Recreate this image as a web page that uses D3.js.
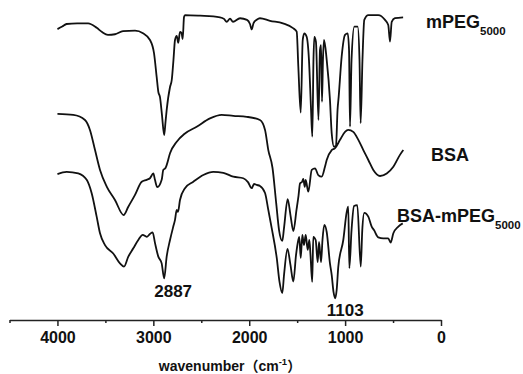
<!DOCTYPE html>
<html>
<head>
<meta charset="utf-8">
<script src="https://cdn.jsdelivr.net/npm/d3@7"></script>
<style>
  body { margin: 0; background: #fff; }
  text { font-family: "Liberation Sans", Arial, sans-serif; font-weight: bold; fill: #111; }
</style>
</head>
<body>
<div id="chart"></div>
<script>
var width = 523,
    height = 374;

// spectra: [wavenumber (cm-1), transmittance (a.u.)]
var mpegSpectrum = [
  [4000, 90.9], [3950, 91.7], [3905, 92.5], [3795, 92.7], [3680, 92.7], [3590, 91.3],
  [3535, 90.0], [3473, 89.1], [3400, 89.3], [3316, 90.3], [3191, 90.4], [3108, 89.6],
  [3035, 87.5], [2993, 83.4], [2965, 75.9], [2948, 71.3], [2931, 69.7], [2910, 64.1],
  [2887, 57.8], [2873, 61.9], [2861, 65.6], [2826, 72.8], [2808, 75.0], [2790, 81.3],
  [2774, 87.5], [2756, 88.8], [2740, 86.6], [2722, 90.0], [2706, 89.7], [2694, 87.8],
  [2680, 94.7], [2670, 95.3], [2513, 95.1], [2305, 94.6], [2263, 94.1], [2235, 93.2],
  [2200, 94.2], [2169, 93.2], [2096, 94.3], [2023, 93.8], [1992, 92.5], [1974, 90.8],
  [1955, 92.8], [1922, 93.8], [1888, 94.3], [1783, 93.5], [1648, 92.7], [1543, 91.2],
  [1505, 90.1], [1488, 79.2], [1463, 64.8], [1442, 87.5], [1426, 89.6], [1401, 88.5],
  [1377, 81.3], [1356, 66.3], [1342, 57.3], [1330, 81.3], [1321, 88.5], [1304, 86.9],
  [1278, 62.5], [1262, 84.4], [1251, 85.9], [1241, 68.2], [1231, 81.3], [1220, 87.5],
  [1192, 81.3], [1158, 68.8], [1140, 58.4], [1116, 54.2], [1095, 54.4], [1079, 65.6],
  [1067, 69.8], [1036, 82.3], [1001, 89.1], [973, 89.6], [959, 84.4], [949, 60.4],
  [933, 81.3], [904, 91.7], [869, 91.7], [850, 81.3], [838, 61.5], [819, 81.3],
  [800, 93.8], [758, 95.3], [654, 95.3], [584, 93.8], [550, 92.2], [532, 87.0],
  [514, 93.2], [480, 94.3], [395, 94.6]
];

var bsaSpectrum = [
  [4000, 64.4], [3835, 64.1], [3713, 62.5], [3661, 59.4], [3608, 53.1], [3556, 46.9],
  [3486, 41.7], [3400, 37.5], [3310, 32.8], [3261, 35.4], [3191, 39.1], [3121, 43.2],
  [3069, 43.8], [3035, 44.3], [3000, 45.8], [2983, 43.8], [2959, 41.5], [2913, 43.8],
  [2896, 46.9], [2873, 47.5], [2861, 48.4], [2826, 52.1], [2756, 55.7], [2670, 58.3],
  [2548, 60.4], [2409, 63.0], [2287, 64.1], [2166, 63.8], [2026, 63.5], [1888, 62.5],
  [1835, 59.4], [1801, 53.1], [1757, 47.5], [1719, 36.6], [1689, 28.1], [1655, 24.7],
  [1637, 28.8], [1599, 37.8], [1570, 32.8], [1540, 27.8], [1507, 34.4], [1486, 38.8],
  [1470, 42.7], [1450, 43.1], [1436, 44.1], [1421, 41.6], [1411, 43.8], [1384, 40.1],
  [1348, 46.9], [1314, 47.4], [1280, 45.3], [1244, 44.8], [1210, 47.9], [1192, 50.0],
  [1140, 53.1], [1105, 53.7], [1053, 56.3], [1001, 58.8], [967, 59.4], [915, 58.8],
  [862, 56.3], [810, 53.1], [758, 50.0], [706, 46.9], [636, 45.0], [566, 45.8],
  [497, 47.9], [428, 51.6], [393, 53.1]
];

var conjSpectrum = [
  [4000, 45.6], [3904, 46.3], [3783, 45.8], [3695, 43.8], [3643, 39.6], [3591, 32.3],
  [3556, 27.1], [3504, 23.4], [3418, 20.8], [3348, 17.7], [3306, 16.7], [3261, 19.8],
  [3209, 22.4], [3157, 25.0], [3111, 26.6], [3069, 26.0], [3035, 26.9], [3007, 27.4],
  [2983, 24.1], [2948, 19.8], [2913, 17.7], [2887, 13.0], [2861, 19.8], [2826, 25.0],
  [2792, 29.2], [2774, 31.3], [2756, 34.4], [2743, 33.8], [2722, 37.5], [2670, 41.2],
  [2583, 43.2], [2479, 45.3], [2375, 46.3], [2270, 46.0], [2166, 44.8], [2062, 44.3],
  [2013, 43.1], [1974, 41.2], [1950, 42.5], [1922, 42.2], [1888, 41.9], [1835, 39.7],
  [1801, 34.4], [1766, 28.8], [1713, 19.4], [1684, 11.9], [1655, 8.4], [1637, 14.1],
  [1601, 22.2], [1570, 17.2], [1540, 12.0], [1512, 20.3], [1488, 25.0], [1478, 26.0],
  [1463, 19.4], [1446, 26.6], [1429, 23.4], [1411, 26.6], [1390, 21.9], [1373, 25.0],
  [1361, 20.3], [1343, 11.9], [1332, 26.0], [1307, 25.0], [1286, 18.1], [1272, 24.4],
  [1251, 18.1], [1236, 25.0], [1217, 29.7], [1192, 27.5], [1158, 17.7], [1140, 14.1],
  [1121, 8.8], [1103, 6.8], [1088, 9.4], [1071, 16.7], [1019, 25.0], [983, 33.8],
  [967, 35.4], [956, 16.2], [933, 28.1], [907, 35.6], [873, 35.9], [837, 16.7],
  [821, 28.1], [800, 33.5], [758, 32.3], [723, 29.2], [699, 28.1], [654, 25.8],
  [602, 25.5], [550, 25.5], [525, 24.2], [497, 27.1], [445, 29.2], [399, 30.2]
];

var majorTicks = [4000, 3000, 2000, 1000, 0];
var minorTicks = [4500, 3500, 2500, 1500, 500];

var svg = d3.select("#chart").append("svg")
    .attr("width", width)
    .attr("height", height);

var x = d3.scaleLinear().domain([4500, 0]).range([9.5, 441]);
var y = d3.scaleLinear().domain([0, 100]).range([320, 0]);

var line = d3.line()
    .x(function(d) { return x(d[0]); })
    .y(function(d) { return y(d[1]); })
    .curve(d3.curveMonotoneX);

svg.selectAll(".spectrum")
    .data([mpegSpectrum, bsaSpectrum, conjSpectrum])
  .enter().append("path")
    .attr("class", "spectrum")
    .attr("d", line)
    .attr("fill", "none")
    .attr("stroke", "#111")
    .attr("stroke-width", 1.8)
    .attr("stroke-linejoin", "round");

// x axis
var axisG = svg.append("g").attr("transform", "translate(0," + y(0) + ")");
axisG.call(d3.axisBottom(x).tickValues(majorTicks).tickSizeInner(6).tickSizeOuter(0)
    .tickPadding(6).tickFormat(d3.format("d")));
axisG.append("g").call(d3.axisBottom(x).tickValues(minorTicks).tickSize(3).tickFormat(""))
    .select(".domain").remove();
axisG.selectAll("path, line").attr("stroke", "#222").attr("stroke-width", 1.5);
axisG.selectAll("text")
    .style("font-family", '"Liberation Sans", Arial, sans-serif')
    .style("font-size", "16px")
    .style("font-weight", "bold")
    .attr("fill", "#111");

// axis title
var title = svg.append("text")
    .attr("x", 230)
    .attr("y", 371)
    .attr("text-anchor", "middle")
    .style("font-size", "14px");
title.append("tspan").text("wavenumber");
title.append("tspan").style("font-family", '"Noto Sans CJK SC", sans-serif').text("（");
title.append("tspan").text("cm");
title.append("tspan").attr("dy", -6).style("font-size", "9.5px").text("-1");
title.append("tspan").attr("dy", 6).style("font-family", '"Noto Sans CJK SC", sans-serif').text("）");

// peak annotations
var peaks = [[2887, 9, 297], [1103, 10, 316]];
svg.selectAll(".peak")
    .data(peaks)
  .enter().append("text")
    .attr("class", "peak")
    .attr("x", function(d) { return x(d[0]) + d[1]; })
    .attr("y", function(d) { return d[2]; })
    .attr("text-anchor", "middle")
    .style("font-size", "17px")
    .text(function(d) { return d[0]; });

// series labels
var labels = [
  { name: "mPEG", sub: "5000", x: 426, y: 28 },
  { name: "BSA", sub: "", x: 431, y: 161 },
  { name: "BSA-mPEG", sub: "5000", x: 397, y: 222 }
];
labels.forEach(function(l) {
  var t = svg.append("text")
      .attr("x", l.x)
      .attr("y", l.y)
      .style("font-size", "18px");
  t.append("tspan").text(l.name);
  if (l.sub) {
    t.append("tspan").attr("dy", 7).style("font-size", "11.5px").text(l.sub);
  }
});
</script>
</body>
</html>
